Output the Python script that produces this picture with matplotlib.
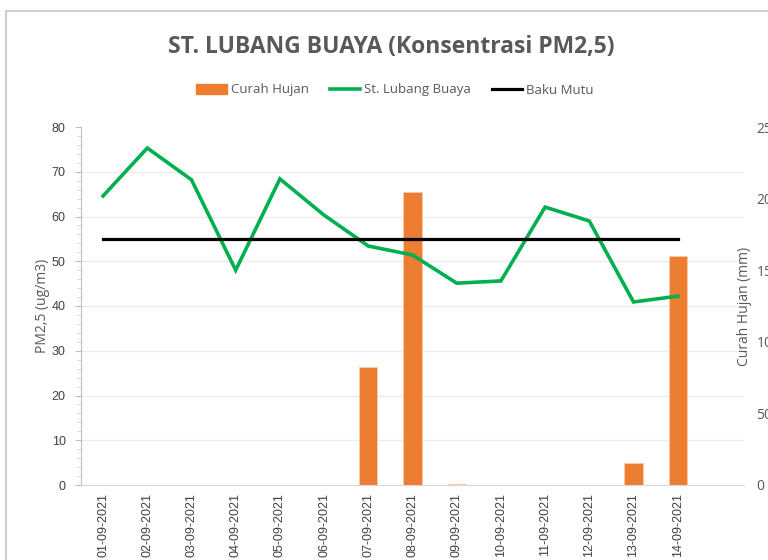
import matplotlib.pyplot as plt
import numpy as np
from matplotlib.patches import Rectangle
from matplotlib.lines import Line2D

dates = ['01-09-2021', '02-09-2021', '03-09-2021', '04-09-2021', '05-09-2021',
         '06-09-2021', '07-09-2021', '08-09-2021', '09-09-2021', '10-09-2021',
         '11-09-2021', '12-09-2021', '13-09-2021', '14-09-2021']
pm25 = [64.6, 75.3, 68.2, 48.0, 68.4, 60.3, 53.4, 51.4, 45.1, 45.6, 62.1, 59.0, 40.9, 42.2]
curah_hujan = [0, 0, 0, 0, 0, 0, 82.5, 204.5, 0.6, 0, 0, 0, 15.5, 160.0]
baku_mutu = [55] * len(dates)

grey = '#595959'
orange = '#ED7D31'
green = '#00B050'

fig = plt.figure(figsize=(7.68, 5.6), dpi=100)
ax1 = fig.add_axes([81 / 768, 1 - 485 / 560, 663 / 768, 358 / 560])
ax2 = ax1.twinx()
ax1.set_zorder(ax2.get_zorder() + 1)
ax1.patch.set_visible(False)

x = np.arange(len(dates))

# bars on the right axis, behind the lines
ax2.bar(x, curah_hujan, width=0.41, color=orange, edgecolor='#F8CBAD', linewidth=0.6, zorder=2)
ax2.set_ylim(0, 250)
ax2.set_yticks(np.arange(0, 251, 50))
ax2.set_yticks(np.arange(0, 251, 31.25), minor=True)
ax2.grid(which='minor', axis='y', color='#ececec', linewidth=1)
ax2.tick_params(axis='y', which='major', length=0, labelsize=10, labelcolor=grey, pad=9)
ax2.tick_params(axis='y', which='minor', length=0)
for lbl in ax2.get_yticklabels():
    lbl.set_fontfamily('Open Sans')
ax2.set_ylabel('Curah Hujan (mm)', fontsize=10, color=grey, fontfamily='Open Sans', labelpad=-31)
for s in ['top', 'right', 'left']:
    ax2.spines[s].set_visible(False)
ax2.spines['bottom'].set_color('#d9d9d9')

# lines on the left axis
ax1.plot(x, pm25, color=green, lw=2.6, solid_joinstyle='miter', zorder=3)
ax1.plot(x, baku_mutu, color='black', lw=2.3, zorder=3)
ax1.set_ylim(0, 80)
ax1.set_xlim(-0.5, 14.5)
ax1.set_yticks(np.arange(0, 81, 10))
ax1.set_yticks(np.arange(0, 81, 2), minor=True)
ax1.tick_params(axis='y', which='major', length=4, color='#bfbfbf', labelsize=9, labelcolor='#404040', pad=7)
ax1.tick_params(axis='y', which='minor', length=3, color='#d0d0d0')
for lbl in ax1.get_yticklabels():
    lbl.set_fontfamily('Liberation Sans')
ax1.set_ylabel('PM2,5 (ug/m3)', fontsize=10, color=grey, fontfamily='Open Sans', labelpad=1)
ax1.set_xticks(x)
ax1.set_xticklabels(dates, rotation=90, fontsize=9, color='#404040', fontfamily='Liberation Sans')
ax1.tick_params(axis='x', length=0, pad=6)
for s in ['top', 'right', 'bottom']:
    ax1.spines[s].set_visible(False)
ax1.spines['left'].set_color('#bfbfbf')

fig.text(391 / 768, 1 - 47 / 560, 'ST. LUBANG BUAYA (Konsentrasi PM2,5)', ha='center', va='center',
         fontsize=16.5, fontweight='bold', color=grey, fontfamily='Open Sans')

handles = [Rectangle((0, 0), 1, 1, color=orange),
           Line2D([], [], color=green, lw=2.6),
           Line2D([], [], color='black', lw=2.3)]
fig.legend(handles, ['Curah Hujan', 'St. Lubang Buaya', 'Baku Mutu'], loc='center',
           bbox_to_anchor=(395 / 768, 1 - 90 / 560), ncol=3, frameon=False,
           prop={'family': 'Open Sans', 'size': 9.5}, labelcolor=grey,
           handlelength=2.3, handleheight=0.7, handletextpad=0.3, columnspacing=1.6)

# chart border, partly visible
fig.add_artist(Rectangle((6 / 768, -0.1), 1.2, 1 - 11 / 560 + 0.1, transform=fig.transFigure,
                         fill=False, edgecolor='#d0d0d0', lw=1.5))

fig.savefig('out.png', dpi=100)
